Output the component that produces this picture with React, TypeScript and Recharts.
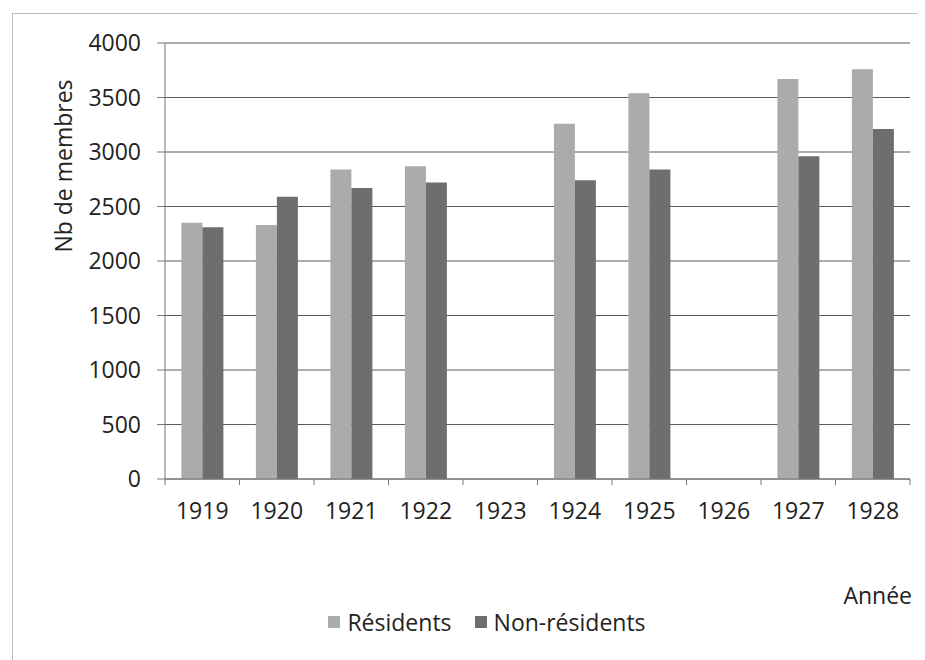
import React from "react";
import { BarChart, Bar, XAxis, YAxis, CartesianGrid, Legend, Label } from "recharts";

const years = ["1919", "1920", "1921", "1922", "1923", "1924", "1925", "1926", "1927", "1928"];
const residents: (number | null)[] = [2350, 2330, 2840, 2870, null, 3260, 3540, null, 3670, 3760];
const nonResidents: (number | null)[] = [2310, 2590, 2670, 2720, null, 2740, 2840, null, 2960, 3210];
const yTicks = [0, 500, 1000, 1500, 2000, 2500, 3000, 3500, 4000];

const data = years.map((y, i) => ({ year: y, res: residents[i], non: nonResidents[i] }));

const FONT = "'Open Sans', sans-serif";
const TXT = "#222";
const FS = 23;

const XTick = (props: any) => {
  const { x, y, payload, index, visibleTicksCount, width } = props;
  const half = payload && payload.offset ? payload.offset : width / (visibleTicksCount || 10) / 2;
  const axisY = y - 24;
  return (
    <g>
      <line x1={x - half} x2={x - half} y1={axisY} y2={axisY + 6} stroke="#777" />
      {index === visibleTicksCount - 1 ? (
        <line x1={x + half} x2={x + half} y1={axisY} y2={axisY + 6} stroke="#777" />
      ) : null}
      <text x={x} y={y} dy="0.71em" textAnchor="middle" fill={TXT} fontSize={FS} fontFamily={FONT}>
        {payload.value}
      </text>
    </g>
  );
};

const LegendContent = (props: any) => {
  const items = (props.payload || []) as any[];
  return (
    <div style={{ display: "flex", justifyContent: "center", alignItems: "center", gap: 23, fontFamily: FONT, fontSize: FS, color: TXT }}>
      {items.map((it) => (
        <div key={String(it.value)} style={{ display: "flex", alignItems: "center", gap: 7 }}>
          <span style={{ display: "inline-block", width: 12, height: 12, background: it.color }} />
          <span>{it.value}</span>
        </div>
      ))}
    </div>
  );
};

export default function App() {
  return (
    <div style={{ position: "relative", width: 917, height: 652 }}>
      <div
        style={{
          position: "absolute",
          left: 4,
          top: 5,
          right: 0,
          bottom: 0,
          borderLeft: "1px solid #bbb",
          borderTop: "1px solid #bbb",
        }}
      />
      <div style={{ position: "absolute", left: 0, top: 0 }}>
        <BarChart
          width={917}
          height={652}
          data={data}
          margin={{ top: 35, right: 15, left: 47, bottom: 51 }}
          barCategoryGap="22%"
          barGap={0}
        >
          <CartesianGrid vertical={false} stroke="#5a5a5a" />
          <XAxis
            dataKey="year"
            height={130}
            stroke="#777"
            tickLine={false}
            tickSize={0}
            tickMargin={24}
            interval={0}
            tick={<XTick />}
          >
            <Label
              content={(p: any) => (
                <text
                  x={p.viewBox.x + p.viewBox.width + 2}
                  y={p.viewBox.y + 116}
                  textAnchor="end"
                  dominantBaseline="central"
                  fill={TXT}
                  fontSize={FS}
                  fontFamily={FONT}
                >
                  Année
                </text>
              )}
            />
          </XAxis>
          <YAxis
            width={110}
            domain={[0, 4000]}
            ticks={yTicks}
            interval={0}
            stroke="#777"
            tickSize={8}
            tickMargin={16}
            tick={{ fill: TXT, fontSize: FS, fontFamily: FONT }}
          >
            <Label
              content={(p: any) => {
                const cx = p.viewBox.x + 8;
                const cy = p.viewBox.y + 123;
                return (
                  <text
                    x={cx}
                    y={cy}
                    transform={`rotate(-90, ${cx}, ${cy})`}
                    textAnchor="middle"
                    dominantBaseline="central"
                    fill={TXT}
                    fontSize={FS}
                    fontFamily={FONT}
                  >
                    Nb de membres
                  </text>
                );
              }}
            />
          </YAxis>
          <Legend
            verticalAlign="middle"
            align="center"
            itemSorter={(item: any) => (item.dataKey === "res" ? 0 : 1)}
            content={<LegendContent />}
            wrapperStyle={{ top: 598, left: 279, width: 400 }}
          />
          <Bar dataKey="res" name="Résidents" fill="#ababab" isAnimationActive={false} />
          <Bar dataKey="non" name="Non-résidents" fill="#6e6e6e" isAnimationActive={false} />
        </BarChart>
      </div>
    </div>
  );
}
